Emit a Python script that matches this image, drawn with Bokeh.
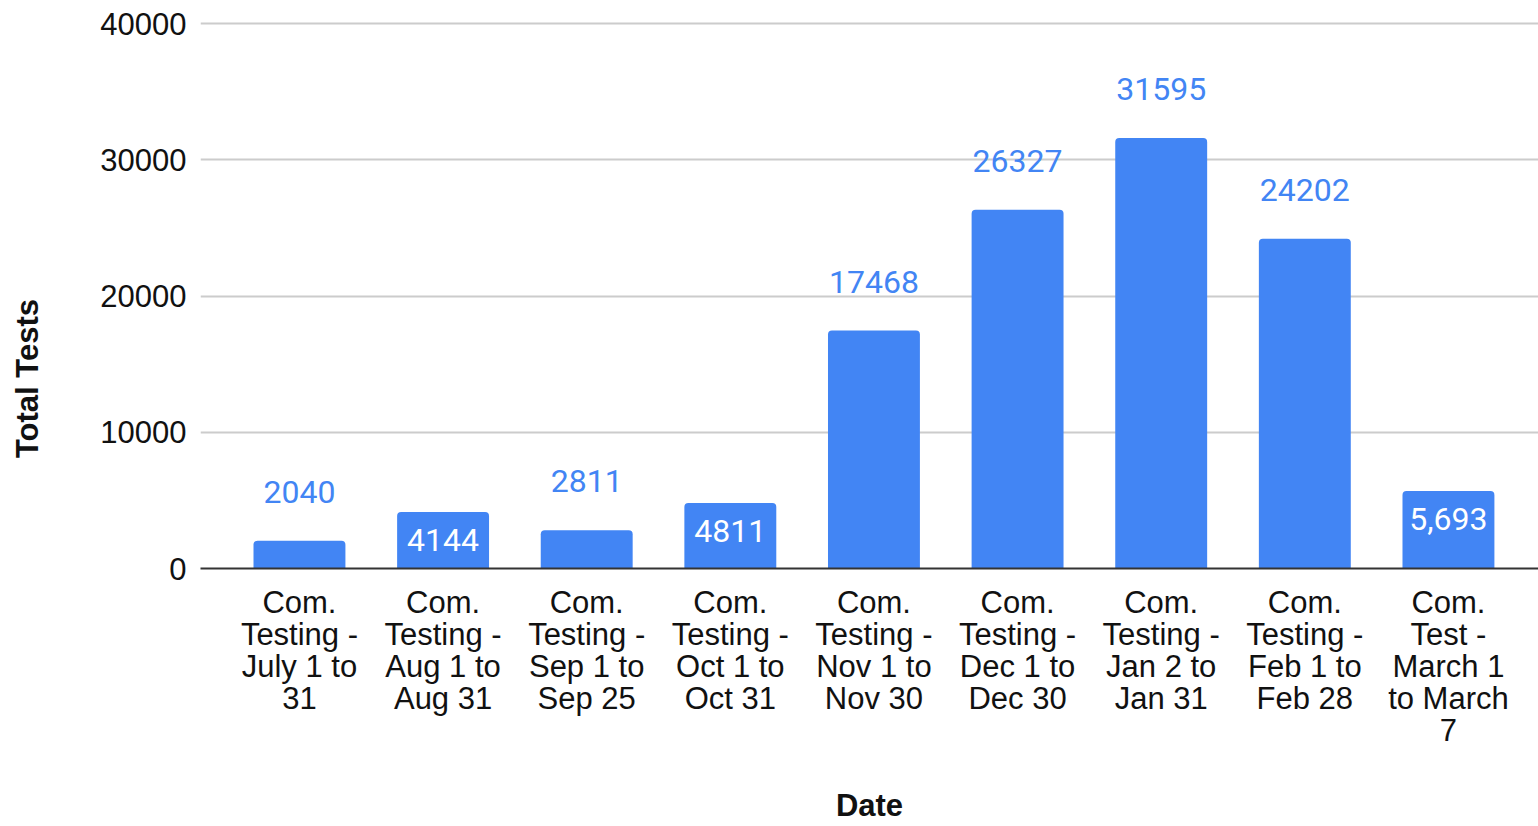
import math
from bokeh.plotting import figure
from bokeh.layouts import row
from bokeh.models import Range1d, FixedTicker, ColumnDataSource
from bokeh.core.properties import value
from bokeh.embed import file_html
from bokeh.resources import INLINE

categories = [
    "Com.\nTesting -\nJuly 1 to\n31",
    "Com.\nTesting -\nAug 1 to\nAug 31",
    "Com.\nTesting -\nSep 1 to\nSep 25",
    "Com.\nTesting -\nOct 1 to\nOct 31",
    "Com.\nTesting -\nNov 1 to\nNov 30",
    "Com.\nTesting -\nDec 1 to\nDec 30",
    "Com.\nTesting -\nJan 2 to\nJan 31",
    "Com.\nTesting -\nFeb 1 to\nFeb 28",
    "Com.\nTest -\nMarch 1\nto March\n7",
]
total_tests = [2040, 4144, 2811, 4811, 17468, 26327, 31595, 24202, 5693]
value_labels = ["2040", "4144", "2811", "4811", "17468", "26327", "31595", "24202", "5,693"]
label_inside = [False, True, False, True, False, False, False, False, True]
y_ticks = [0, 10000, 20000, 30000, 40000]
y_title = "Total Tests"
x_title = "Date"

BLUE = "#4285F4"
TEXT = "#111111"
idx = list(range(len(categories)))
H = 826
TITLE_W = 60

src = ColumnDataSource(dict(
    x=idx,
    top=total_tests,
    text=value_labels,
    color=["#ffffff" if inside else BLUE for inside in label_inside],
    yoff=[28 if inside else -49 for inside in label_inside],
))

yr = Range1d(0, 40150)
p = figure(width=1538 - TITLE_W, height=H, output_backend="svg", toolbar_location=None,
           x_range=Range1d(-0.689, 8.627), y_range=yr,
           min_border_left=200 - TITLE_W, min_border_right=0, min_border_top=21,
           min_border_bottom=258)
p.outline_line_color = None
p.background_fill_color = "white"
p.border_fill_color = "white"

p.vbar(x="x", top="top", width=0.64, source=src, fill_color=BLUE, line_color=None,
       border_radius=(4, 4, 0, 0))
p.text(x="x", y="top", text="text", source=src, text_color="color", y_offset="yoff",
       text_align="center", text_baseline="middle", text_font=value("Roboto"),
       text_font_size="32px")

# x axis
p.xaxis.ticker = FixedTicker(ticks=idx)
p.xaxis.major_label_overrides = {i: c for i, c in zip(idx, categories)}
p.xaxis.major_tick_line_color = None
p.xaxis.minor_tick_line_color = None
p.xaxis.axis_line_color = "#333333"
p.xaxis.axis_line_width = 2
p.xaxis.major_label_text_font = "Liberation Sans"
p.xaxis.major_label_text_font_size = "31px"
p.xaxis.major_label_text_color = TEXT
p.xaxis.major_label_text_line_height = 0.92
p.xaxis.major_label_standoff = 10
p.xaxis.axis_label = x_title
p.xaxis.axis_label_text_font = "Liberation Sans"
p.xaxis.axis_label_text_font_style = "bold"
p.xaxis.axis_label_text_font_size = "31px"
p.xaxis.axis_label_text_color = TEXT
p.xaxis.axis_label_standoff = 37

# y axis
p.yaxis.ticker = FixedTicker(ticks=y_ticks)
p.yaxis.axis_line_color = None
p.yaxis.major_tick_line_color = None
p.yaxis.minor_tick_line_color = None
p.yaxis.major_label_text_font = "Liberation Sans"
p.yaxis.major_label_text_font_size = "31px"
p.yaxis.major_label_text_color = TEXT
p.yaxis.major_label_standoff = 8

p.xgrid.grid_line_color = None
p.ygrid.grid_line_color = "#cccccc"
p.ygrid.grid_line_width = 2

# narrow strip holding the y-axis title; its frame is aligned with the main
# plot's frame by the row layout, so it shares the same y range
t = figure(width=TITLE_W, height=H, output_backend="svg", toolbar_location=None,
           x_range=Range1d(0, TITLE_W), y_range=yr,
           x_axis_type=None, y_axis_type=None,
           min_border_left=0, min_border_right=0, min_border_top=21,
           min_border_bottom=258)
t.outline_line_color = None
t.grid.visible = False
t.background_fill_color = "white"
t.border_fill_color = "white"
t.text(x=[27], y=[13945], text=[y_title], angle=math.pi / 2,
       text_align="center", text_baseline="middle",
       text_font=value("Liberation Sans"), text_font_style="bold",
       text_font_size="31px", text_color=TEXT)

layout = row(t, p, spacing=0)
open("out.html", "w").write(file_html(layout, INLINE))
